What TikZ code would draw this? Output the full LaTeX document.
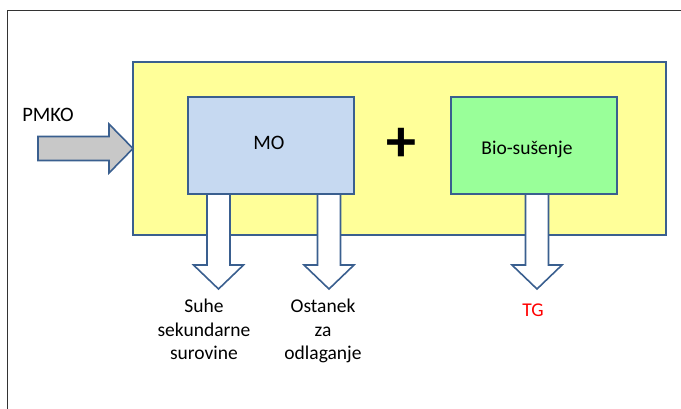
\documentclass[tikz,border=0pt]{standalone}
\usepackage{fontspec}
\setmainfont{Carlito}
\usepackage{tikz}
\usetikzlibrary{calc}

\definecolor{edgeblue}{HTML}{3A5F8F}
\definecolor{procyellow}{HTML}{FFFF99}
\definecolor{moblue}{HTML}{C6D9F1}
\definecolor{biogreen}{HTML}{99FF99}
\definecolor{ingray}{HTML}{C8C8C8}

\begin{document}
\begin{tikzpicture}[x=1pt,y=-1pt,inner sep=0pt,outer sep=0pt,
    every node/.style={font=\fontsize{19.5}{23.5}\selectfont},
    box/.style={draw=edgeblue,line width=1.6pt,minimum height=97pt,minimum width=166pt},
    outarrow/.style={draw=edgeblue,line width=1.6pt,fill=white,line join=miter},
    inarrow/.style={draw=edgeblue,line width=1.6pt,fill=ingray,line join=miter}]
    \useasboundingbox (0,0) rectangle (681,408);
    % outer frame
    \draw[black!80,line width=0.8pt] (7,10) rectangle (700,430);
    %
    \node[draw=edgeblue,line width=1.6pt,fill=procyellow,minimum width=533pt,minimum height=173pt] (proc) at (399.5,148.5) {};
    \node[box,fill=moblue] (mo) at (270.8,145.5) {};
    \node[box,fill=biogreen] (bio) at (534,145.5) {};
    \node[font=\fontsize{20.5}{24}\selectfont] (mo_txt) at (269,143) {MO};
    \node (bio_txt) at (527,149) {Bio-sušenje};
    \node[font=\fontsize{60}{60}\bfseries\selectfont] (plus) at (401,145) {+};
    %
    \node[font=\fontsize{20.5}{24}\selectfont] (pmko) at (48,115) {PMKO};
    \coordinate (in_tip) at (proc.west);
    \draw[inarrow] (in_tip) -- ++(-24,-24.5) -- ++(0,12.5) -- ++(-71,0) -- ++(0,24) -- ++(71,0) -- ++(0,12.5) -- cycle;
    %
    \coordinate (out1) at (218.5,194);
    \coordinate (out2) at (329,194);
    \coordinate (out3) at (537,194);
    \foreach \c in {out1,out2,out3}
        \draw[outarrow] (\c) ++(-11.5,0) -- ++(0,71) -- ++(-13.5,0) -- ++(25,24) -- ++(25,-24) -- ++(-13.5,0) -- ++(0,-71) -- cycle;
    %
    \node[align=center,anchor=north] (suhe) at (204,299) {Suhe\\sekundarne\\surovine};
    \node[align=center,anchor=north] (ostanek) at (323,299) {Ostanek\\za\\odlaganje};
    \node[text=red] (tg) at (533,310) {TG};
\end{tikzpicture}
\end{document}
